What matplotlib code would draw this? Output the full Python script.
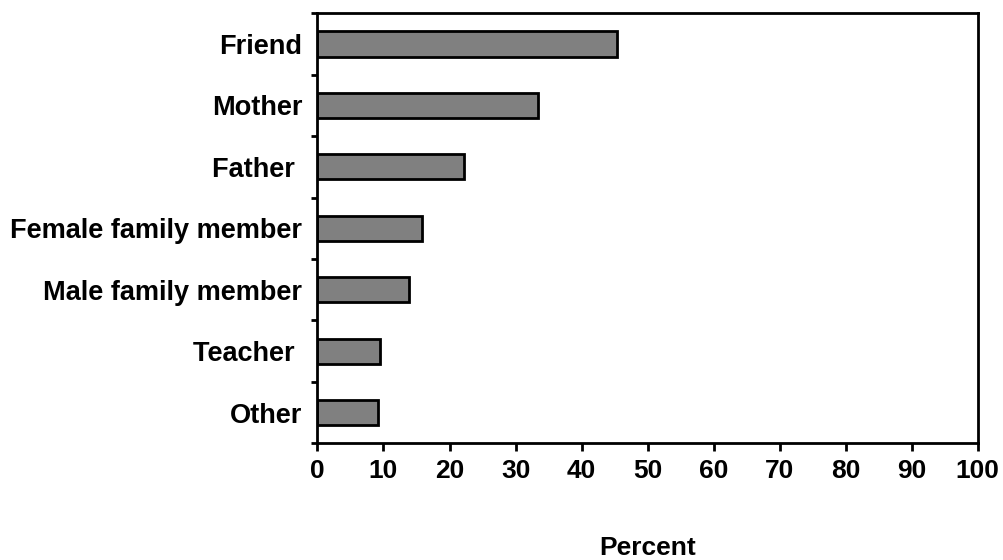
import matplotlib
matplotlib.use("Agg")
import matplotlib.pyplot as plt
import numpy as np

categories = ["Friend", "Mother", "Father ", "Female family member", "Male family member", "Teacher ", "Other"]
values = [45.4, 33.4, 22.2, 15.8, 13.9, 9.5, 9.1]
xticks = list(range(0, 101, 10))

plt.rcParams['font.family'] = ['Liberation Sans', 'DejaVu Sans']
plt.rcParams['font.weight'] = 'bold'

fig = plt.figure(figsize=(10.04, 5.6), dpi=100)
ax = fig.add_axes([0.3162, 0.2084, 0.6576, 0.7678])

n = len(categories)
ypos = np.arange(n)[::-1]
ax.barh(ypos, values, height=0.41, color="#808080", edgecolor="black", linewidth=2)

ax.set_xlim(0, 100)
ax.set_ylim(-0.5, n - 0.5)
ax.set_xticks(xticks)
ax.set_xticklabels([str(t) for t in xticks], fontsize=19, fontweight='bold')
ax.tick_params(axis='x', direction='out', length=6, width=2, pad=5)

ax.set_yticks(np.arange(-0.5, n, 1.0))
ax.set_yticklabels([])
ax.tick_params(axis='y', which='major', direction='out', length=4, width=2)
ax.set_yticks(ypos, minor=True)
ax.set_yticklabels(categories, minor=True, fontsize=19.5, fontweight='bold')
ax.tick_params(axis='y', which='minor', length=0, pad=11)

for s in ax.spines.values():
    s.set_linewidth(2)

pos = ax.get_position()
fig.text((pos.x0 + pos.x1) / 2, 1 - 548 / 560, "Percent", fontsize=19, fontweight='bold',
         ha='center', va='center')

fig.savefig("out.png", dpi=100)
